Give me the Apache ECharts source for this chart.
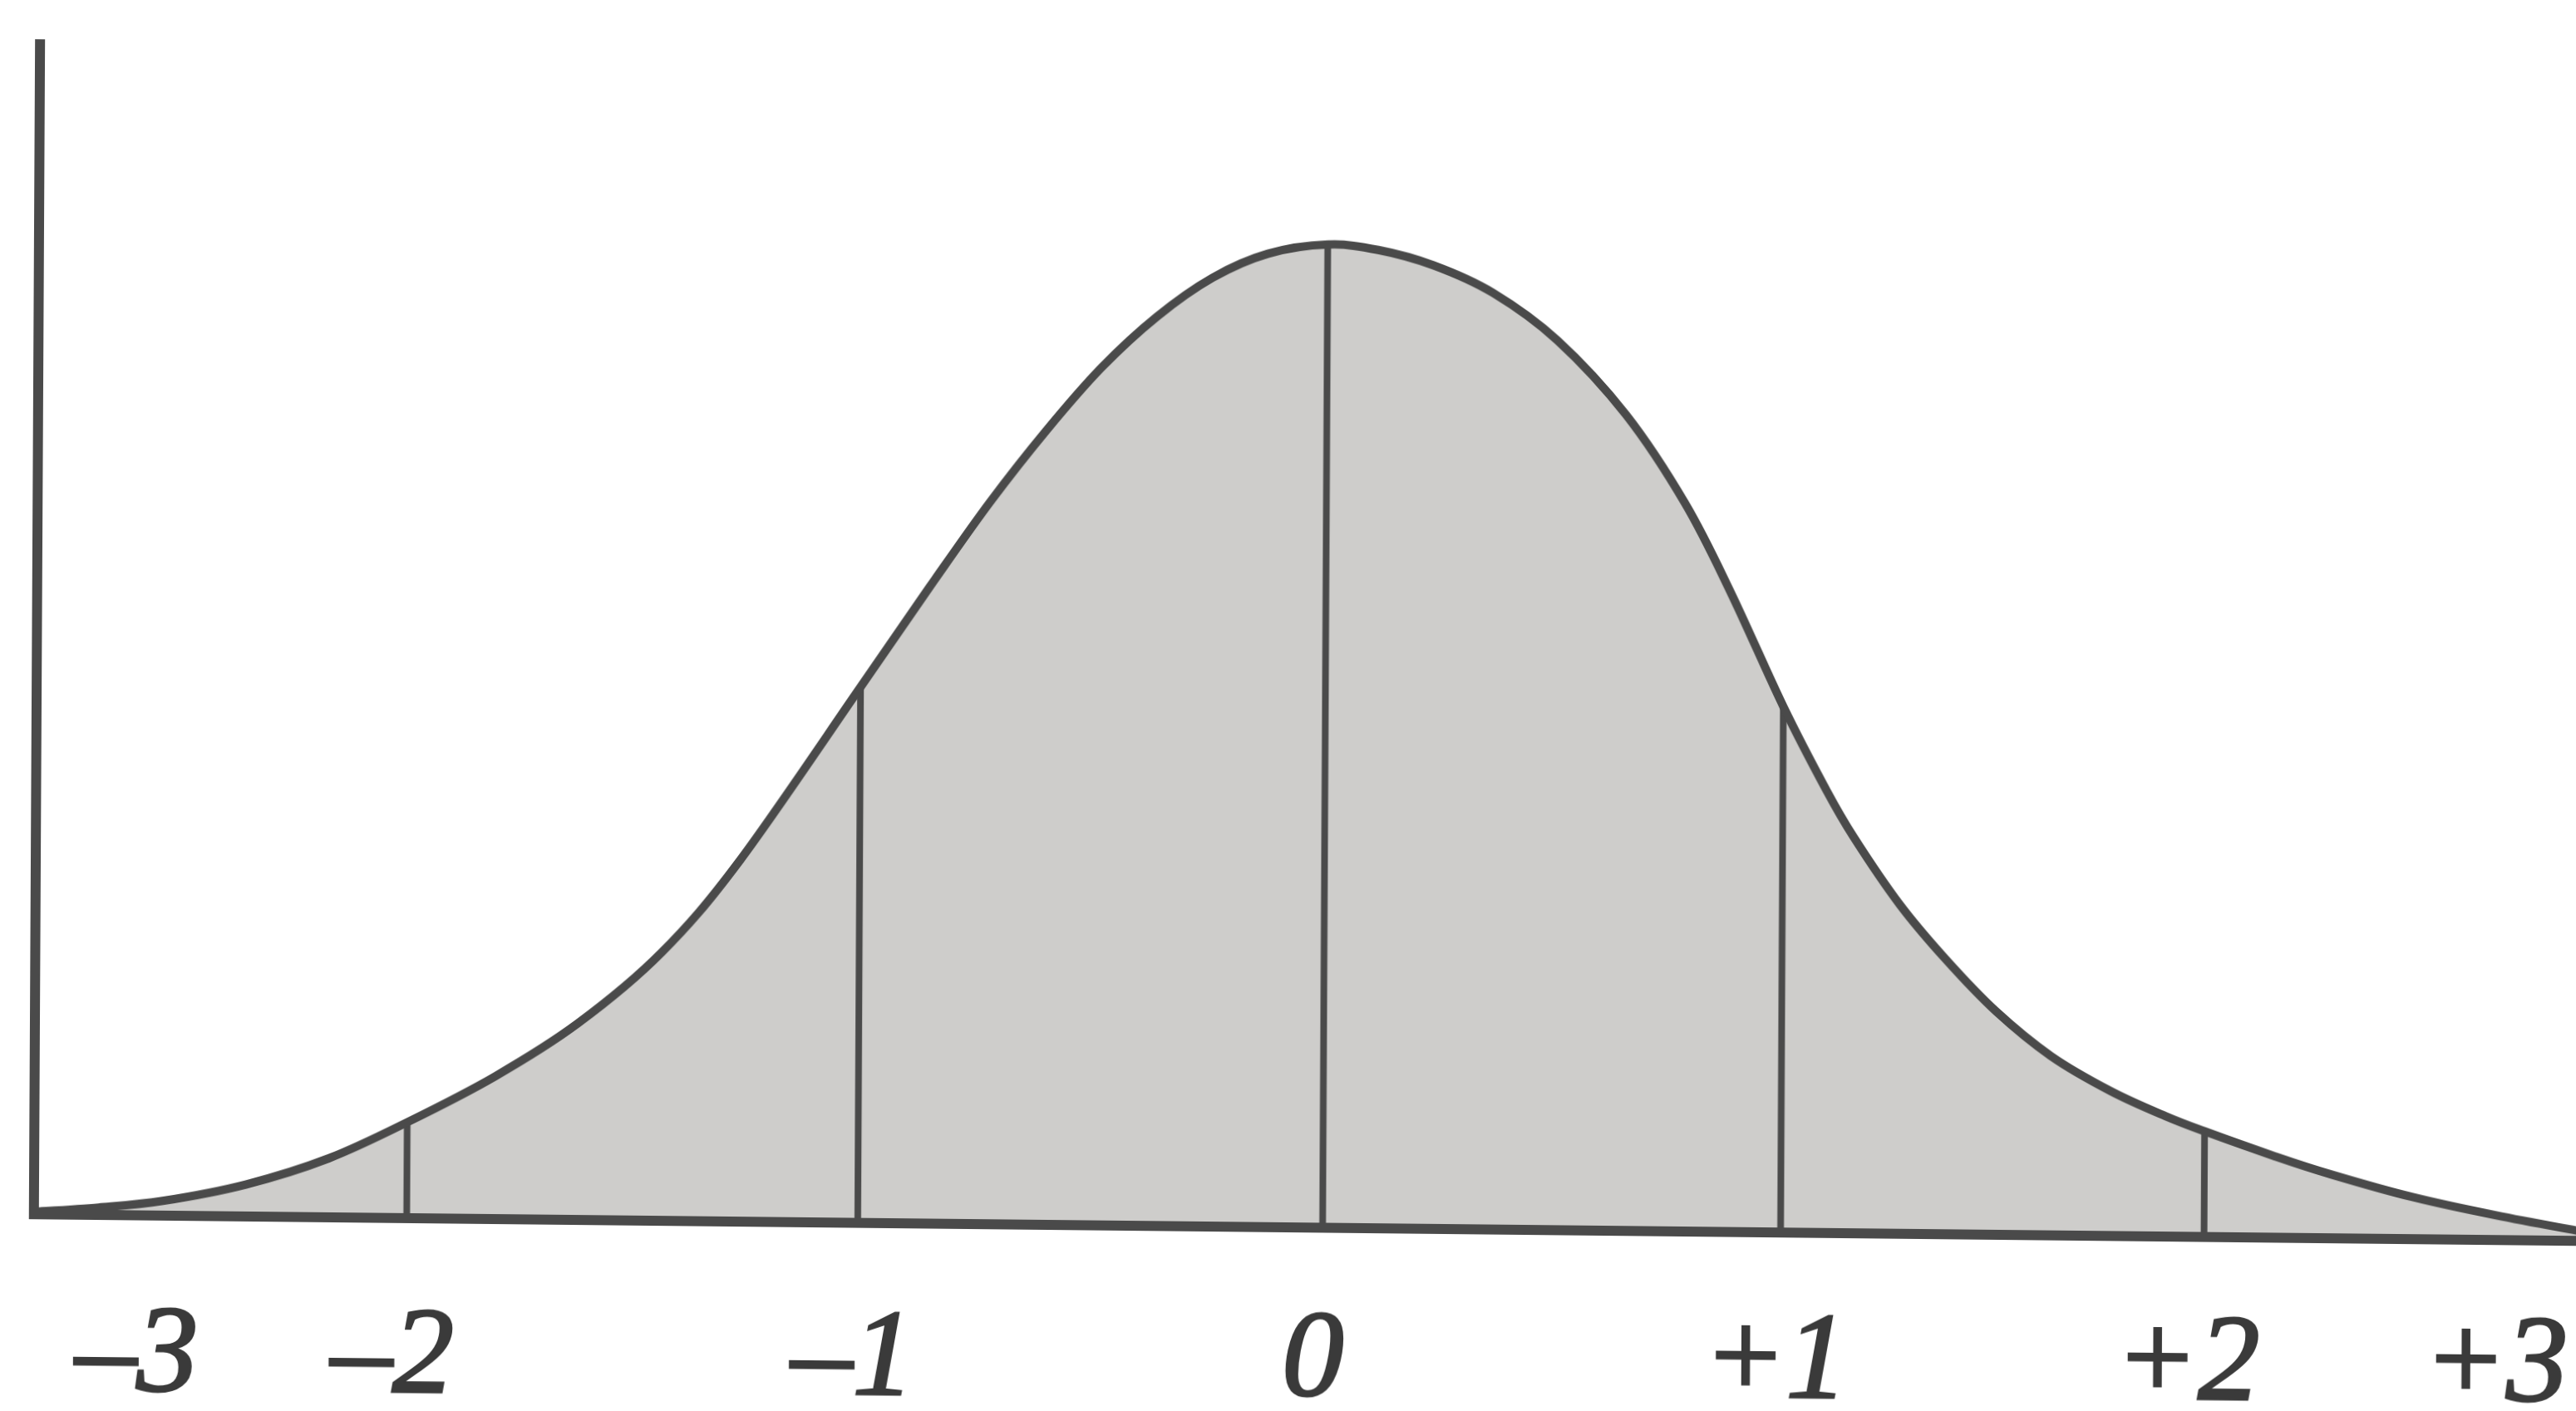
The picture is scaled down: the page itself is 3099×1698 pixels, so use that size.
<!DOCTYPE html>
<html>
<head>
<meta charset="utf-8">
<title>Normal curve</title>
<script src="https://cdn.jsdelivr.net/npm/echarts@6/dist/echarts.min.js"></script>
<style>
  html, body { margin: 0; padding: 0; background: #ffffff; overflow: hidden; }
  body { width: 3099px; height: 1698px; position: relative; }
  #chart {
    position: absolute; left: 0; top: 0;
    width: 3120px; height: 1698px;
    transform-origin: 1549px 849px;
    transform: rotate(0.3deg) skewY(0.3deg);
  }
</style>
</head>
<body>
<div id="chart"></div>
<script>
// Horizontal position of each traced point (in standard-deviation units from the mean)
const curveZ = [
  -2.80, -2.66, -2.52, -2.34, -2.16, -1.99, -1.80, -1.62, -1.44, -1.27,
  -1.01, -0.85, -0.73, -0.61, -0.49, -0.37, -0.25, -0.13, 0,
  0.11, 0.23, 0.36, 0.50, 0.65, 0.78, 0.88, 0.995, 1.09, 1.15,
  1.25, 1.35, 1.46, 1.58, 1.71, 1.83, 1.915, 2.07, 2.19, 2.37,
  2.55, 2.73, 2.76
];
// Height of the bell curve at each of those positions
const curveHeight = [
  0.001, 0.003, 0.006, 0.013, 0.024, 0.039, 0.058, 0.080, 0.109, 0.147,
  0.218, 0.262, 0.294, 0.323, 0.349, 0.370, 0.386, 0.396, 0.400,
  0.398, 0.392, 0.381, 0.362, 0.332, 0.296, 0.260, 0.214, 0.180, 0.161,
  0.134, 0.112, 0.091, 0.073, 0.059, 0.049, 0.043, 0.033, 0.026, 0.017,
  0.010, 0.004, 0.003
];
// Vertical dividers at -2, -1, 0, +1, +2 standard deviations
const sigmaZ = [-1.99, -1.01, 0, 0.995, 1.915];
// Axis labels and where they sit along the baseline
const tickLabels = ['\u20133', '\u20132', '\u20131', '0', '+1', '+2', '+3'];
const tickPositions = [-2.575, -2.02, -1.02, -0.02, 0.985, 1.88, 2.55];

const ink = '#4a4a4a';
const shade = '#cecdcb';
const labelFont = {
  color: '#3a3a3a',
  fontFamily: 'Liberation Serif',
  fontStyle: 'italic',
  fontSize: 148,
  textBorderColor: '#3a3a3a',
  textBorderWidth: 3
};

const curveData = curveZ.map((z, i) => [z, curveHeight[i]]);
const heightAt = z => curveHeight[curveZ.indexOf(z)];

function nearestTick(v) {
  let best = 0;
  for (let i = 1; i < tickPositions.length; i++) {
    if (Math.abs(tickPositions[i] - v) < Math.abs(tickPositions[best] - v)) best = i;
  }
  return best;
}

// Labels run level while the printed baseline sags slightly to the right,
// so each label is lifted a little more the further right it sits.
const labelRich = {};
tickPositions.forEach((p, i) => {
  const span = tickPositions[tickPositions.length - 1] - tickPositions[0];
  const lift = Math.round((p - tickPositions[0]) / span * 18);
  labelRich['t' + i] = Object.assign({ padding: [0, 0, lift * 2, 0] }, labelFont);
});

// Smooth path through every traced point (Catmull-Rom segments as cubic Beziers)
function smoothPath(pts) {
  let d = 'M' + pts[0][0] + ',' + pts[0][1];
  const n = pts.length;
  for (let i = 0; i < n - 1; i++) {
    const p0 = pts[Math.max(i - 1, 0)];
    const p1 = pts[i];
    const p2 = pts[i + 1];
    const p3 = pts[Math.min(i + 2, n - 1)];
    const c1x = p1[0] + (p2[0] - p0[0]) / 6;
    const c1y = p1[1] + (p2[1] - p0[1]) / 6;
    const c2x = p2[0] - (p3[0] - p1[0]) / 6;
    const c2y = p2[1] - (p3[1] - p1[1]) / 6;
    d += ' C' + c1x + ',' + c1y + ' ' + c2x + ',' + c2y + ' ' + p2[0] + ',' + p2[1];
  }
  return d;
}

function renderBell(params, api) {
  if (params.dataIndex !== 0) return null;
  const pts = curveData.map(p => api.coord(p));
  const outline = smoothPath(pts);
  const baseY = api.coord([curveZ[0], 0])[1];
  const last = pts[pts.length - 1];
  const area = outline + ' L' + last[0] + ',' + baseY + ' L' + pts[0][0] + ',' + baseY + ' Z';
  const dividers = sigmaZ.map(z => {
    const a = api.coord([z, 0]);
    const b = api.coord([z, heightAt(z)]);
    return {
      type: 'line',
      shape: { x1: a[0], y1: a[1], x2: b[0], y2: b[1] },
      style: { stroke: ink, lineWidth: 8 }
    };
  });
  return {
    type: 'group',
    children: [
      { type: 'path', shape: { pathData: area }, style: { fill: shade, stroke: null } },
      ...dividers,
      { type: 'path', shape: { pathData: outline }, style: { fill: null, stroke: ink, lineWidth: 10, lineJoin: 'round' } }
    ]
  };
}

const chart = echarts.init(document.getElementById('chart'), null, { renderer: 'canvas' });
chart.setOption({
  animation: false,
  backgroundColor: '#ffffff',
  grid: {
    left: 44, right: 0, top: 69, bottom: 221,
    containLabel: false,
    outerBoundsMode: 'none'
  },
  xAxis: {
    type: 'value',
    min: -2.80,
    max: 2.755,
    z: 10,
    axisLine: { show: true, onZero: false, lineStyle: { color: ink, width: 12, cap: 'square' } },
    axisTick: { show: false },
    splitLine: { show: false },
    axisLabel: Object.assign({
      customValues: tickPositions,
      formatter: v => {
        const i = nearestTick(v);
        return '{t' + i + '|' + tickLabels[i] + '}';
      },
      rich: labelRich,
      margin: 172,
      verticalAlign: 'middle',
      showMinLabel: true,
      showMaxLabel: true
    }, labelFont)
  },
  yAxis: {
    type: 'value',
    min: 0,
    max: 0.476,
    z: 10,
    axisLine: { show: true, onZero: false, lineStyle: { color: ink, width: 12, cap: 'square' } },
    axisTick: { show: false },
    axisLabel: { show: false },
    splitLine: { show: false }
  },
  series: [
    {
      type: 'custom',
      coordinateSystem: 'cartesian2d',
      data: curveData,
      renderItem: renderBell,
      silent: true,
      clip: true,
      z: 3
    }
  ]
});
</script>
</body>
</html>
